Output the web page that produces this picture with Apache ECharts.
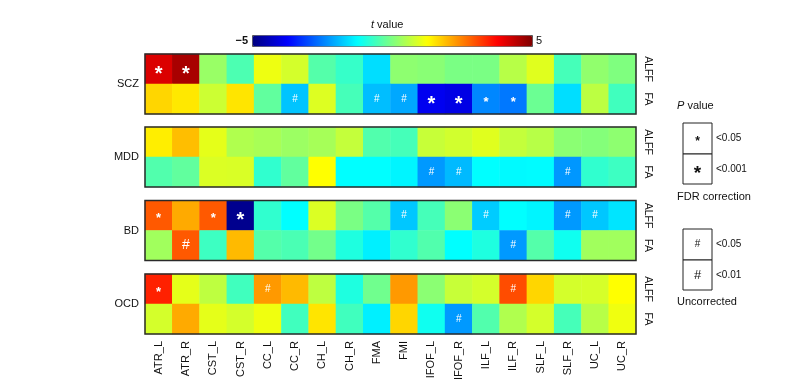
<!DOCTYPE html>
<html><head><meta charset="utf-8">
<script src="https://cdn.jsdelivr.net/npm/echarts@6/dist/echarts.min.js"></script>
<style>html,body{margin:0;padding:0;background:#fff}#c{width:809px;height:386px}</style>
</head><body><div id="c"></div>
<script>
const columns = ['ATR_L','ATR_R','CST_L','CST_R','CC_L','CC_R','CH_L','CH_R','FMA','FMI','IFOF_L','IFOF_R','ILF_L','ILF_R','SLF_L','SLF_R','UC_L','UC_R'];
const groups = ['SCZ','MDD','BD','OCD'];
const measures = ['ALFF','FA'];
const colorTicks = ['\u22125','5'];
const tMin = -5, tMax = 5;

// t values
const sczALFF = [4.1,4.6,0.25,-0.5,1.08,0.83,-0.42,-0.72,-1.57,0.15,0.1,-0.05,-0.05,0.55,0.95,-0.57,0.18,0.0];
const sczFA   = [1.65,1.47,0.75,1.5,-0.3,-1.83,0.92,-0.57,-1.88,-2.1,-3.9,-4.0,-2.42,-2.57,-0.2,-1.57,0.6,-0.62];
const mddALFF = [1.42,1.88,1.0,0.48,0.4,0.28,0.38,0.67,-0.45,-0.57,0.7,0.8,0.95,0.67,0.55,0.12,0.05,0.15];
const mddFA   = [-0.45,-0.3,0.9,0.88,-0.78,-0.3,1.25,-1.25,-1.25,-1.35,-2.25,-1.92,-1.25,-1.3,-1.28,-2.27,-0.78,-0.65];
const bdALFF  = [2.87,2.08,2.87,-4.85,-0.78,-1.25,0.9,-0.05,-0.42,-1.8,-0.57,0.12,-1.75,-1.25,-1.35,-2.25,-1.8,-1.5];
const bdFA    = [0.33,2.87,-0.65,1.92,-0.42,-0.52,-0.12,-0.95,-1.4,-0.78,-0.45,-1.25,-0.95,-2.25,-0.42,-1.1,0.33,0.33];
const ocdALFF = [3.43,1.0,0.62,-0.62,2.25,1.92,0.62,-0.95,-0.15,2.25,0.12,0.7,0.83,3.0,1.65,0.83,0.85,1.25];
const ocdFA   = [0.83,2.08,1.0,0.83,1.1,-0.62,1.5,-0.62,-1.4,1.65,-1.1,-2.25,-0.45,0.48,0.83,-0.57,0.55,1.1];

// significance marks per column: f = FDR p<0.05, F = FDR p<0.001, u = uncorrected p<0.05, U = uncorrected p<0.01
const sczALFFsig = 'FF................';
const sczFAsig   = '.....u..uuFFff....';
const mddALFFsig = '..................';
const mddFAsig   = '..........uu...u..';
const bdALFFsig  = 'f.fF.....u..u..uu.';
const bdFAsig    = '.U...........u....';
const ocdALFFsig = 'f...u........u....';
const ocdFAsig   = '...........u......';

const values = [[sczALFF,sczFA],[mddALFF,mddFA],[bdALFF,bdFA],[ocdALFF,ocdFA]];
const sigs = [[sczALFFsig,sczFAsig],[mddALFFsig,mddFAsig],[bdALFFsig,bdFAsig],[ocdALFFsig,ocdFAsig]];

const FONT = '"Liberation Sans", Arial, sans-serif';
const gridTops = [54, 127, 200.5, 274];
const gridH = 60, gridL = 145, gridR = 173;

function markLabel(code){
  const base = {show:true, color:'#fff', fontWeight:'bold', fontFamily:FONT};
  if (code === 'f') return Object.assign(base,{formatter:'*', fontSize:13, offset:[0,3]});
  if (code === 'F') return Object.assign(base,{formatter:'*', fontSize:20, offset:[0,5]});
  if (code === 'u') return Object.assign(base,{formatter:'#', fontSize:10, fontWeight:'normal'});
  if (code === 'U') return Object.assign(base,{formatter:'#', fontSize:14, fontWeight:'normal'});
  return {show:false};
}

const grids = [], xAxes = [], yAxes = [], series = [];
groups.forEach((g, gi) => {
  grids.push({left:gridL, right:gridR, top:gridTops[gi], height:gridH, show:true,
    borderColor:'#2a2a2a', borderWidth:1.5, backgroundColor:'transparent', z:10});
  xAxes.push({type:'category', gridIndex:gi, data:columns, position:'bottom',
    axisLine:{show:false}, axisTick:{show:false}, splitLine:{show:false},
    axisLabel:{show: gi === groups.length-1, rotate:90, interval:0, margin:7, fontSize:11, color:'#111', fontFamily:FONT}});
  yAxes.push({type:'category', gridIndex:gi, data:measures, inverse:true, position:'right',
    axisLine:{show:false}, axisTick:{show:false}, splitLine:{show:false},
    axisLabel:{rotate:-90, interval:0, hideOverlap:false, margin:6, fontSize:10.5, color:'#111', fontFamily:FONT}});
  const data = [];
  measures.forEach((m, mi) => {
    columns.forEach((c, ci) => {
      data.push({value:[ci, mi, values[gi][mi][ci]], label: markLabel(sigs[gi][mi][ci])});
    });
  });
  series.push({type:'heatmap', xAxisIndex:gi, yAxisIndex:gi, data:data,
    itemStyle:{borderWidth:0}, emphasis:{disabled:true}, progressive:0});
});

const graphic = [];
groups.forEach((g, gi) => {
  graphic.push({type:'text', style:{text:g, x:139, y:gridTops[gi]+gridH/2, textAlign:'right', align:'right',
    textVerticalAlign:'middle', verticalAlign:'middle', font:'11px '+FONT, fill:'#111'}});
});
// colorbar tick labels
graphic.push({type:'text', style:{text:colorTicks[0], x:248, y:41, textAlign:'right', align:'right', textVerticalAlign:'middle', verticalAlign:'middle', font:'bold 11px '+FONT, fill:'#111'}});
graphic.push({type:'text', style:{text:colorTicks[1], x:536, y:41, textAlign:'left', align:'left', textVerticalAlign:'middle', verticalAlign:'middle', font:'11px '+FONT, fill:'#111'}});
// significance legend
const legBoxes = [
  {y:123, h:31, sym:'*', size:12, dy:3, bold:true, txt:'<0.05'},
  {y:154, h:30, sym:'*', size:19, dy:5, bold:true, txt:'<0.001'},
  {y:229, h:31, sym:'#', size:10, dy:0, bold:false, txt:'<0.05'},
  {y:260, h:30, sym:'#', size:13, dy:0, bold:false, txt:'<0.01'}
];
legBoxes.forEach(b => {
  graphic.push({type:'rect', shape:{x:683, y:b.y, width:29, height:b.h}, style:{fill:'#fff', stroke:'#222', lineWidth:1}});
  graphic.push({type:'text', style:{text:b.sym, x:697.5, y:b.y+b.h/2+b.dy, textAlign:'center', align:'center',
    textVerticalAlign:'middle', verticalAlign:'middle', font:(b.bold?'bold ':'')+b.size+'px '+FONT, fill:'#111'}});
  graphic.push({type:'text', style:{text:b.txt, x:716, y:b.y+b.h/2, textAlign:'left', align:'left',
    textVerticalAlign:'middle', verticalAlign:'middle', font:'10px '+FONT, fill:'#111'}});
});
graphic.push({type:'text', style:{text:'FDR correction', x:677, y:197, textAlign:'left', align:'left', textVerticalAlign:'middle', verticalAlign:'middle', font:'11px '+FONT, fill:'#111'}});
graphic.push({type:'text', style:{text:'Uncorrected', x:677, y:302, textAlign:'left', align:'left', textVerticalAlign:'middle', verticalAlign:'middle', font:'11px '+FONT, fill:'#111'}});

const chart = echarts.init(document.getElementById('c'), null, {renderer:'canvas'});
chart.setOption({
  animation:false,
  backgroundColor:'#fff',
  title:[
    {text:'{i|t} value', left:371, top:19, padding:0,
      textStyle:{fontSize:11, fontWeight:'normal', color:'#111', fontFamily:FONT,
        rich:{i:{fontStyle:'italic', fontSize:11, color:'#111', fontFamily:FONT}}}},
    {text:'{i|P} value', left:677, top:100, padding:0,
      textStyle:{fontSize:11, fontWeight:'normal', color:'#111', fontFamily:FONT,
        rich:{i:{fontStyle:'italic', fontSize:11, color:'#111', fontFamily:FONT}}}}
  ],
  visualMap:{type:'continuous', min:tMin, max:tMax, orient:'horizontal', left:252, top:35,
    itemWidth:11, itemHeight:280, padding:0, borderWidth:1, borderColor:'#555',
    calculable:false, showLabel:false, text:null, seriesIndex:[0,1,2,3],
    inRange:{color:['#00007F','#0000FF','#007FFF','#00FFFF','#7FFF7F','#FFFF00','#FF7F00','#FF0000','#7F0000']}},
  grid:grids, xAxis:xAxes, yAxis:yAxes, series:series, graphic:graphic
});
</script></body></html>
